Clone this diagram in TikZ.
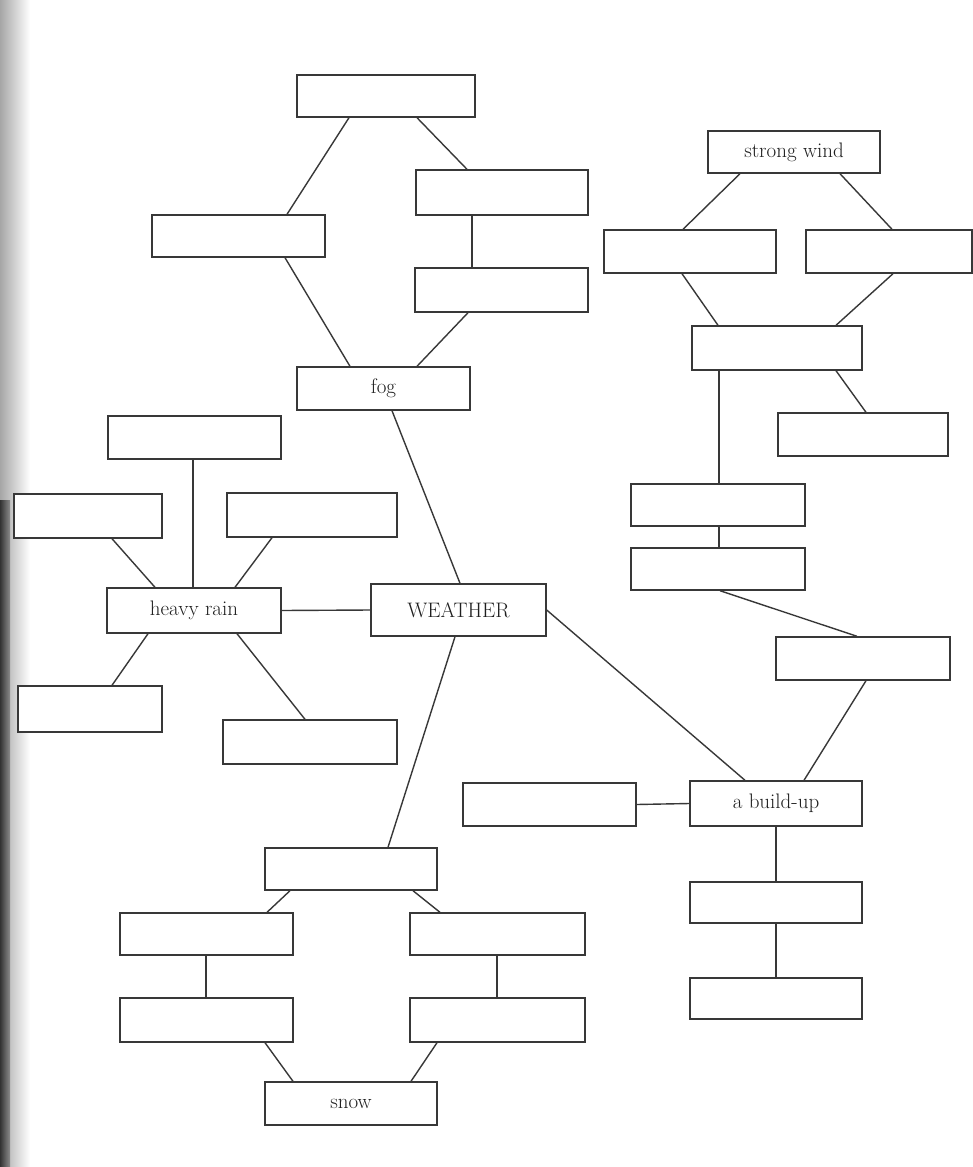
\documentclass[tikz,border=0pt]{standalone}
\begin{document}
\begin{tikzpicture}[x=1pt,y=-1pt,
  box/.style={draw=black!78, line width=1.4pt, fill=white, rectangle, inner sep=0pt,
    minimum width=172pt, minimum height=43pt, font=\fontsize{21}{24}\selectfont, text=black!88},
  link/.style={draw=black!78, line width=1.4pt}]
\useasboundingbox (0,0) rectangle (973,1167);
\fill[white] (0,0) rectangle (973,1167);
\shade[left color=black!35, right color=white] (0,0) rectangle (30,1167);
\shade[left color=black!80, right color=black!45] (0,500) rectangle (10,1167);
% fog cluster
\node[box, minimum width=178pt, minimum height=42pt] (top) at (386,96) {};
\node[box, minimum height=45pt] (b2) at (502,192.5) {};
\node[box, minimum width=173pt, minimum height=42pt] (b3) at (238.5,236) {};
\node[box, minimum width=173pt, minimum height=44pt] (b4) at (501.5,290) {};
\node[box, minimum width=173pt] (fog) at (383.5,388.5) {fog};
% strong wind cluster
\node[box, minimum height=42pt] (wind) at (794,152) {strong wind};
\node[box] (b7) at (690,251.5) {};
\node[box, minimum width=166pt] (b8) at (889,251.5) {};
\node[box, minimum width=170pt, minimum height=44pt] (b9) at (777,348) {};
\node[box, minimum width=170pt] (b10) at (863,434.5) {};
\node[box, minimum width=174pt, minimum height=42pt] (b11) at (718,505) {};
\node[box, minimum width=174pt, minimum height=42pt] (b12) at (718,569) {};
\node[box, minimum width=174pt] (b13) at (863,658.5) {};
% build-up cluster
\node[box, minimum height=45pt] (build) at (776,803.5) {a build-up};
\node[box, minimum width=173pt] (b15) at (549.5,804.5) {};
\node[box, minimum height=41pt] (b16) at (776,902.5) {};
\node[box, minimum height=41pt] (b17) at (776,998.5) {};
% centre
\node[box, minimum width=175pt, minimum height=52pt] (weather) at (458.5,610) {WEATHER};
% heavy rain cluster
\node[box, minimum width=174pt, minimum height=45pt] (rain) at (194,610.5) {heavy rain};
\node[box, minimum width=173pt] (b20) at (194.5,437.5) {};
\node[box, minimum width=148pt, minimum height=44pt] (b21) at (88,516) {};
\node[box, minimum width=170pt, minimum height=44pt] (b22) at (312,515) {};
\node[box, minimum width=144pt, minimum height=46pt] (b23) at (90,709) {};
\node[box, minimum width=174pt, minimum height=44pt] (b24) at (310,742) {};
% snow cluster
\node[box, minimum height=42pt] (b25) at (351,869) {};
\node[box, minimum width=173pt, minimum height=42pt] (b26) at (206.5,934) {};
\node[box, minimum width=175pt, minimum height=42pt] (b27) at (497.5,934) {};
\node[box, minimum width=173pt, minimum height=44pt] (b28) at (206.5,1020) {};
\node[box, minimum width=175pt, minimum height=44pt] (b29) at (497.5,1020) {};
\node[box] (snow) at (351,1103.5) {snow};
% connectors
\draw[link] ([xshift=-37]top.south) -- ([xshift=48.5]b3.north);
\draw[link] ([xshift=31]top.south) -- ([xshift=-35]b2.north);
\draw[link] ([xshift=-30]b2.south) -- ([xshift=-29.5]b4.north);
\draw[link] ([xshift=46.5]b3.south) -- ([xshift=-33.5]fog.north);
\draw[link] ([xshift=-33.5]b4.south) -- ([xshift=33.5]fog.north);
\draw[link] ([xshift=8.5]fog.south) -- ([xshift=1.5]weather.north);
\draw[link] ([xshift=-3.5]weather.south) -- ([xshift=37]b25.north);
\draw[link] (weather.east) -- ([xshift=-31]build.north);
\draw[link] (rain.east) -- (weather.west);
\draw[link] ([xshift=-1.5]b20.south) -- ([xshift=-1]rain.north);
\draw[link] ([xshift=24]b21.south) -- ([xshift=-39]rain.north);
\draw[link] ([xshift=-40]b22.south) -- ([xshift=41]rain.north);
\draw[link] ([xshift=-46]rain.south) -- ([xshift=22]b23.north);
\draw[link] ([xshift=43]rain.south) -- ([xshift=-5]b24.north);
\draw[link] ([xshift=-54]wind.south) -- ([xshift=-7]b7.north);
\draw[link] ([xshift=46]wind.south) -- ([xshift=3]b8.north);
\draw[link] ([xshift=-8]b7.south) -- ([xshift=-59]b9.north);
\draw[link] ([xshift=4]b8.south) -- ([xshift=59]b9.north);
\draw[link] ([xshift=59]b9.south) -- ([xshift=3]b10.north);
\draw[link] ([xshift=-58]b9.south) -- ([xshift=1]b11.north);
\draw[link] ([xshift=1]b11.south) -- ([xshift=1]b12.north);
\draw[link] ([xshift=2]b12.south) -- ([xshift=-6]b13.north);
\draw[link] ([xshift=3]b13.south) -- ([xshift=28]build.north);
\draw[link] (b15.east) -- (build.west);
\draw[link] (build.south) -- (b16.north);
\draw[link] (b16.south) -- (b17.north);
\draw[link] ([xshift=-61]b25.south) -- ([xshift=60.5]b26.north);
\draw[link] ([xshift=62]b25.south) -- ([xshift=-57.5]b27.north);
\draw[link] ([xshift=-0.5]b26.south) -- ([xshift=-0.5]b28.north);
\draw[link] ([xshift=-0.5]b27.south) -- ([xshift=-0.5]b29.north);
\draw[link] ([xshift=58.5]b28.south) -- ([xshift=-58]snow.north);
\draw[link] ([xshift=-60.5]b29.south) -- ([xshift=60]snow.north);
\end{tikzpicture}
\end{document}
